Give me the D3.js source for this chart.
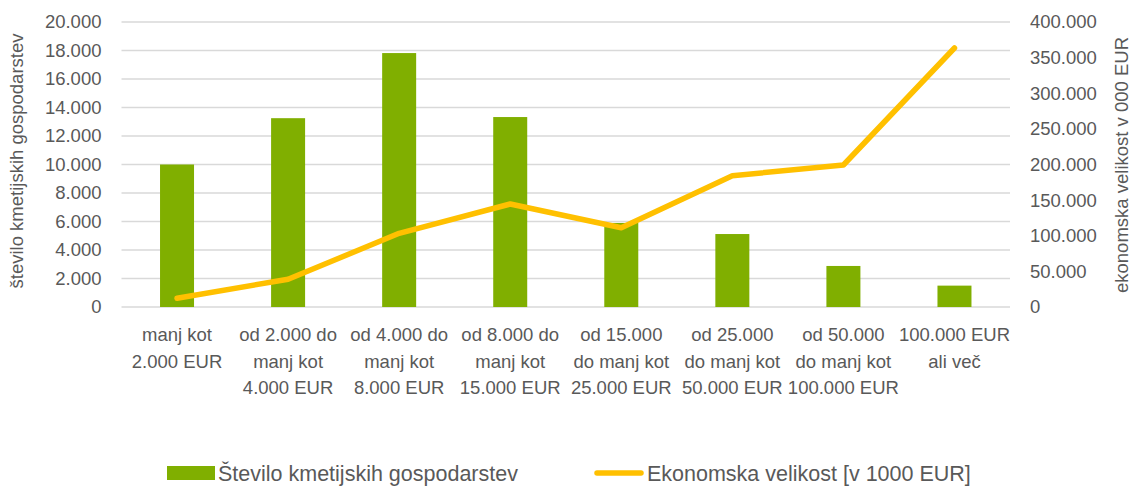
<!DOCTYPE html>
<html><head><meta charset="utf-8">
<script src="https://cdn.jsdelivr.net/npm/d3@7"></script>
<style>
body{margin:0;background:#fff;}
text{font-family:"Liberation Sans",Arial,sans-serif;fill:#595959;}
</style></head><body>
<svg id="chart" width="1131" height="487"></svg>
<script>
const categories = [
  ["manj kot","2.000 EUR"],
  ["od 2.000 do","manj kot","4.000 EUR"],
  ["od 4.000 do","manj kot","8.000 EUR"],
  ["od 8.000 do","manj kot","15.000 EUR"],
  ["od 15.000","do manj kot","25.000 EUR"],
  ["od 25.000","do manj kot","50.000 EUR"],
  ["od 50.000","do manj kot","100.000 EUR"],
  ["100.000 EUR","ali več"]
];
const farms = [10000, 13250, 17820, 13330, 5900, 5120, 2880, 1500];
const econSize = [12200, 39000, 103400, 144600, 111300, 184300, 199300, 363500];
const leftTicks = [0,2000,4000,6000,8000,10000,12000,14000,16000,18000,20000];
const rightTicks = [0,50000,100000,150000,200000,250000,300000,350000,400000];
const leftTitle = "število kmetijskih gospodarstev";
const rightTitle = "ekonomska velikost v 000 EUR";
const legendBar = "Število kmetijskih gospodarstev";
const legendLine = "Ekonomska velikost [v 1000 EUR]";

const svg = d3.select("#chart");
const m = {left:121.5, right:1010, top:22, bottom:307};
const fmt = v => v === 0 ? "0" : d3.format(",")(v).replace(/,/g, ".");

const x = d3.scaleBand().domain(d3.range(categories.length)).range([m.left, m.right]).paddingInner(0).paddingOuter(0);
const yL = d3.scaleLinear().domain([0,20000]).range([m.bottom, m.top]);
const yR = d3.scaleLinear().domain([0,400000]).range([m.bottom, m.top]);

// gridlines
svg.append("g").selectAll("line").data(leftTicks).join("line")
  .attr("x1", m.left).attr("x2", m.right)
  .attr("y1", d => yL(d)).attr("y2", d => yL(d))
  .attr("stroke", "#d9d9d9").attr("stroke-width", 1.5);

// left axis
const la = svg.append("g").attr("transform", `translate(${m.left},0)`)
  .call(d3.axisLeft(yL).tickValues(leftTicks).tickFormat(fmt).tickSize(0).tickPadding(20));
la.select(".domain").remove();
la.selectAll("text").style("font-size","18.5px").attr("fill","#595959").attr("font-family", null);

// right axis
const ra = svg.append("g").attr("transform", `translate(${m.right},0)`)
  .call(d3.axisRight(yR).tickValues(rightTicks).tickFormat(fmt).tickSize(0).tickPadding(20));
ra.select(".domain").remove();
ra.selectAll("text").style("font-size","18.5px").attr("fill","#595959").attr("font-family", null);

// bars
const bw = 34;
svg.append("g").selectAll("rect").data(farms).join("rect")
  .attr("x", (d,i) => x(i) + x.bandwidth()/2 - bw/2)
  .attr("width", bw)
  .attr("y", d => yL(d))
  .attr("height", d => yL(0) - yL(d))
  .attr("fill", "#80AF00");

// line
const line = d3.line().x((d,i) => x(i) + x.bandwidth()/2).y(d => yR(d));
svg.append("path").datum(econSize).attr("d", line)
  .attr("fill","none").attr("stroke","#FFC000").attr("stroke-width",5.5)
  .attr("stroke-linecap","round").attr("stroke-linejoin","round");

// category labels
const cl = svg.append("g");
categories.forEach((lines, i) => {
  const t = cl.append("text").attr("text-anchor","middle").style("font-size","18.5px")
    .attr("x", x(i) + x.bandwidth()/2).attr("y", 341);
  lines.forEach((s, j) => t.append("tspan").attr("x", x(i) + x.bandwidth()/2).attr("y", 341 + j*26.5).text(s));
});

// axis titles
svg.append("text").attr("transform","translate(23,161) rotate(-90)")
  .attr("text-anchor","middle").style("font-size","18.5px").text(leftTitle);
svg.append("text").attr("transform","translate(1128,165) rotate(-90)")
  .attr("text-anchor","middle").style("font-size","18.5px").text(rightTitle);

// legend
const lg = svg.append("g");
lg.append("rect").attr("x",167).attr("y",466).attr("width",48).attr("height",14).attr("fill","#80AF00");
lg.append("text").attr("x",218).attr("y",481).style("font-size","21.5px").text(legendBar);
lg.append("line").attr("x1",597).attr("x2",641).attr("y1",473).attr("y2",473)
  .attr("stroke","#FFC000").attr("stroke-width",5.5).attr("stroke-linecap","round");
lg.append("text").attr("x",647).attr("y",481).style("font-size","21.5px").text(legendLine);
</script>
</body></html>
